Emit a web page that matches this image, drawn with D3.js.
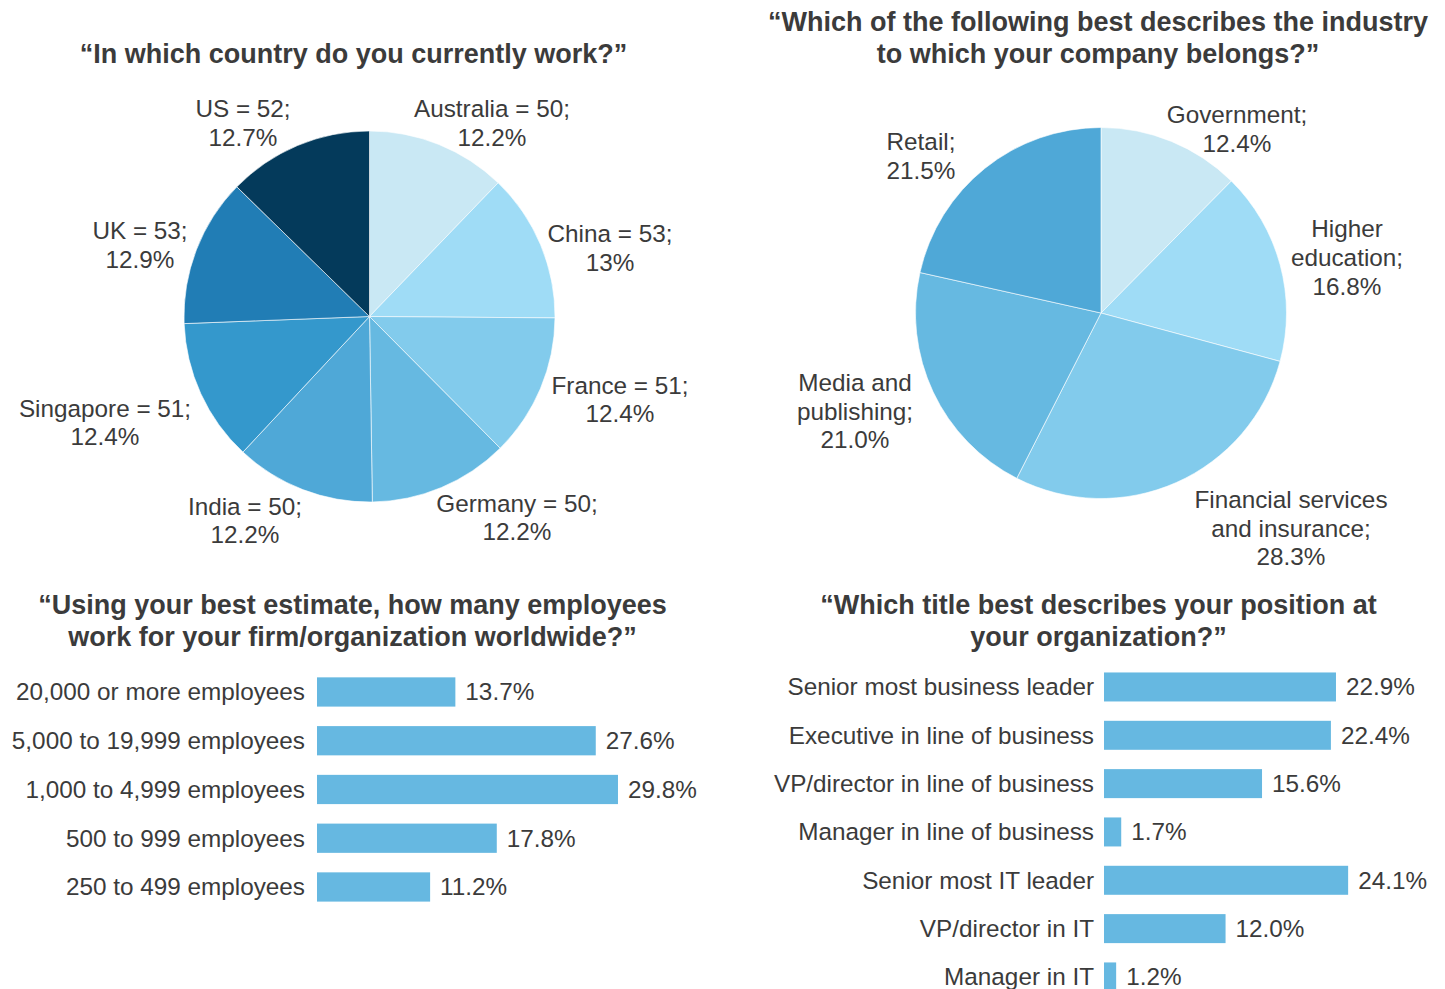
<!DOCTYPE html>
<html>
<head>
<meta charset="utf-8">
<script src="https://cdn.jsdelivr.net/npm/d3@7"></script>
<style>
  html, body { margin: 0; padding: 0; background: #ffffff; }
  svg { display: block; }
  text { font-family: "Liberation Sans", Arial, Helvetica, sans-serif; fill: #3b3b3b; }
</style>
</head>
<body>
<svg id="chart" width="1445" height="989"></svg>
<script>
// ---------- DATA ----------
const countryNames  = ["Australia", "China", "France", "Germany", "India", "Singapore", "UK", "US"];
const countryCounts = [50, 53, 51, 50, 50, 51, 53, 52];
const countryPctLabels = ["12.2%", "13%", "12.4%", "12.2%", "12.2%", "12.4%", "12.9%", "12.7%"];

const industryNames = [["Government;"], ["Higher", "education;"], ["Financial services", "and insurance;"], ["Media and", "publishing;"], ["Retail;"]];
const industryPct   = [12.4, 16.8, 28.3, 21.0, 21.5];

const sizeCats = ["20,000 or more employees", "5,000 to 19,999 employees", "1,000 to 4,999 employees", "500 to 999 employees", "250 to 499 employees"];
const sizePct  = [13.7, 27.6, 29.8, 17.8, 11.2];

const titleCats = ["Senior most business leader", "Executive in line of business", "VP/director in line of business", "Manager in line of business", "Senior most IT leader", "VP/director in IT", "Manager in IT"];
const titlePct  = [22.9, 22.4, 15.6, 1.7, 24.1, 12.0, 1.2];

const titles = [
  ["\u201CIn which country do you currently work?\u201D"],
  ["\u201CWhich of the following best describes the industry", "to which your company belongs?\u201D"],
  ["\u201CUsing your best estimate, how many employees", "work for your firm/organization worldwide?\u201D"],
  ["\u201CWhich title best describes your position at", "your organization?\u201D"]
];

// ---------- STYLE / LAYOUT ----------
const countryColors  = ["#c9e8f4", "#9fdcf6", "#82cbec", "#66b9e1", "#4fa8d7", "#3498cc", "#217db5", "#043a5b"];
const industryColors = ["#c9e8f4", "#9fdcf6", "#82cbec", "#66b9e1", "#4fa8d7"];
const barColor = "#66b8e1";
const FS = 24.3, LH = 28.8, TFS = 27, TLH = 32;

// label block centers relative to pie centre (layout only)
const countryLabelOffsets  = [[122.5,-193.5],[240.5,-68.5],[250.5,83],[147.5,201],[-124.5,204],[-264.5,106],[-229.5,-71.5],[-126.5,-193.5]];
const industryLabelOffsets = [[136,-184],[246,-55.5],[190,215],[-246,98],[-180,-157]];

const svg = d3.select("#chart");

function drawTitle(lines, cx, y0) {
  const t = svg.append("text").attr("text-anchor", "middle")
    .style("font-size", TFS + "px").style("font-weight", "bold");
  lines.forEach((l, i) => t.append("tspan").attr("x", cx).attr("y", y0 + i * TLH).attr("dy", "0.35em").text(l));
}
drawTitle(titles[0], 353.5, 54);
drawTitle(titles[1], 1098, 22);
drawTitle(titles[2], 352.5, 605);
drawTitle(titles[3], 1098.5, 605);

function drawPie(values, colors, cx, cy, r, labelLines, offsets) {
  const g = svg.append("g").attr("transform", `translate(${cx},${cy})`);
  const arcs = d3.pie().sort(null).value(d => d)(values);
  const arc = d3.arc().innerRadius(0).outerRadius(r);
  g.selectAll("path.slice").data(arcs).join("path")
    .attr("class", "slice")
    .attr("d", arc)
    .attr("fill", (d, i) => colors[i])
    .attr("stroke", "#ffffff").attr("stroke-width", 0.6);
  arcs.forEach((a, i) => {
    const lines = labelLines[i];
    const [ox, oy] = offsets[i];
    const top = oy - (lines.length - 1) * LH / 2;
    const t = g.append("text").attr("text-anchor", "middle").style("font-size", FS + "px");
    lines.forEach((l, j) => t.append("tspan").attr("x", ox).attr("y", top + j * LH).attr("dy", "0.35em").text(l));
  });
}

drawPie(countryCounts, countryColors, 369.5, 316.5, 185.5,
  countryNames.map((n, i) => [n + " = " + countryCounts[i] + ";", countryPctLabels[i]]),
  countryLabelOffsets);

drawPie(industryPct, industryColors, 1101, 313, 185.5,
  industryNames.map((n, i) => n.concat([industryPct[i].toFixed(1) + "%"])),
  industryLabelOffsets);

function drawBars(cats, vals, x0, perPct, yTop, step, labelX) {
  const y = d3.scaleBand().domain(cats).range([yTop, yTop + step * cats.length]).paddingInner(0.4).paddingOuter(0.2);
  const x = d3.scaleLinear().domain([0, 30]).range([x0, x0 + perPct * 30]);
  const g = svg.append("g");
  g.selectAll("rect").data(vals).join("rect")
    .attr("x", x(0))
    .attr("y", (d, i) => y(cats[i]))
    .attr("width", d => x(d) - x(0))
    .attr("height", y.bandwidth())
    .attr("fill", barColor);
  g.selectAll("text.cat").data(cats).join("text")
    .attr("class", "cat")
    .attr("x", labelX)
    .attr("y", d => y(d) + y.bandwidth() / 2)
    .attr("dy", "0.35em")
    .attr("text-anchor", "end")
    .style("font-size", FS + "px")
    .text(d => d);
  g.selectAll("text.val").data(vals).join("text")
    .attr("class", "val")
    .attr("x", d => x(d) + 10)
    .attr("y", (d, i) => y(cats[i]) + y.bandwidth() / 2)
    .attr("dy", "0.35em")
    .style("font-size", FS + "px")
    .text(d => d.toFixed(1) + "%");
}

drawBars(sizeCats, sizePct, 317, 10.1, 667.6, 48.75, 305);
drawBars(titleCats, titlePct, 1104, 10.13, 662.8, 48.33, 1094);
</script>
</body>
</html>
